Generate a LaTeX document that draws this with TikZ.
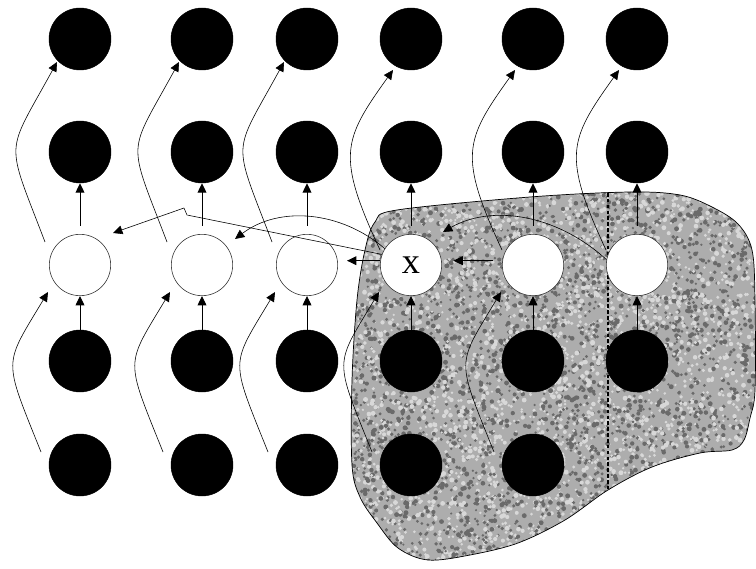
\documentclass[tikz,border=0pt]{standalone}
\usepackage{fontspec}
\setmainfont{Liberation Serif}
\usepackage{tikz}
\usetikzlibrary{arrows.meta,calc}
\definecolor{speck}{HTML}{6A6A6A}
\definecolor{grain}{HTML}{D8D8D8}

\tikzset{
  patch/.style={insert path={plot[smooth cycle,tension=.55] coordinates {
    (397,210) (530,197) (630,192) (680,195) (712,207) (738,224) (752,250)
    (755,300) (755,390) (750,418) (744,440) (732,450) (700,453) (652,467)
    (608,490) (565,520) (518,543) (470,555) (428,560) (398,548) (377,523)
    (360,497) (352,465) (352,380) (357,300) (365,250) (375,222)}}}
}

\begin{document}
\begin{tikzpicture}[x=0.03cm,y=-0.03cm,
  unit/.style={circle,draw=black,fill=black,minimum size=1.86cm,inner sep=0pt},
  hid/.style={circle,draw=black!80,fill=white,line width=0.5pt,minimum size=1.84cm,inner sep=0pt},
  arr/.style={-{Triangle[length=8pt,width=7.5pt]},line width=0.8pt},
  wire/.style={-{Triangle[length=8pt,width=7.5pt]},line width=0.5pt}]
  \useasboundingbox (0,0) rectangle (756,569);
  % noisy patch
  \fill[black!32,patch];
  \begin{scope}
    \clip[patch];
    \pgfmathsetseed{11}
    \foreach \k in {1,...,3200}
      {\fill[speck] ({350+406*rnd},{190+372*rnd}) circle ({1.2+1.3*rnd});
       \fill[grain] ({350+406*rnd},{190+372*rnd}) circle ({1.2+1.3*rnd});}
  \end{scope}
  \draw[line width=0.6pt,patch];
  \draw[densely dashed,line width=0.9pt,black] (608,193) -- (608,490);
  % units
  \foreach \i/\x/\t in {1/80/,2/202/,3/307/,4/411/x,5/533/,6/637/}
    {\node[unit] (a\i) at (\x,39) {};
     \node[unit] (b\i) at (\x,152) {};
     \node[hid] (h\i) at (\x,265) {\fontsize{31}{31}\selectfont\raisebox{-4pt}{\t}};
     \node[unit] (c\i) at (\x,361) {};}
  \foreach \i/\x in {1/80,2/202,3/307,4/411,5/533}
    \node[unit] (d\i) at (\x,465) {};
  % straight links
  \foreach \i in {1,...,6}
    {\draw[arr,shorten <=7pt] (h\i) -- (b\i);
     \draw[arr] (c\i) -- (h\i);}
  \draw[arr,shorten >=8pt] (h4.172) -- (h3.8);
  \draw[arr,shorten <=8pt,shorten >=10pt] (h5.172) -- (h4.8);
  % skip links
  \foreach \i in {1,2,3}
    \draw[wire] ($(h\i)+(-35,-23)$) .. controls +(-40,-105) and +(-52,95) .. ($(a\i)+(-23,23)$);
  \foreach \i in {4,5,6}
    \draw[wire] ($(h\i)+(-31,-15)$) .. controls +(-44,-95) and +(-50,70) .. ($(a\i)+(-18,31)$);
  \foreach \i in {1,...,5}
    \draw[wire] ($(d\i)+(-39,-13)$) .. controls +(-38,-95) and +(-45,75) .. ($(h\i)+(-32,27)$);
  % long links
  \draw[wire] (h6.170) .. controls +(-52,-47) and +(47,-27) .. ($(h4)+(32,-33)$);
  \draw[wire] (h4.148) .. controls +(-43,-37) and +(45,-34) .. ($(h2)+(33,-26)$);
  \coordinate (kink) at (184,208);
  \draw[wire,line join=round] (h4.160) -- ($(kink)+(3,7)$) -- (kink) -- ($(h1)+(33,-32)$);
\end{tikzpicture}
\end{document}
